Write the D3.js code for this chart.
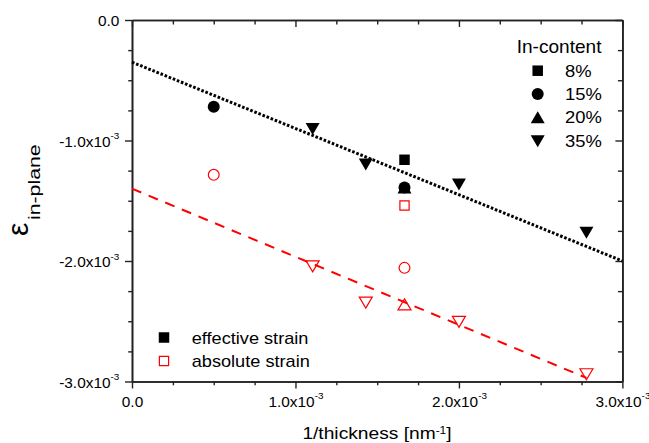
<!DOCTYPE html>
<html><head><meta charset="utf-8">
<script src="https://cdn.jsdelivr.net/npm/d3@7"></script>
<style>
body{margin:0;background:#fff}
svg{display:block}
text{font-family:"Liberation Sans",Arial,Helvetica,sans-serif;fill:#000}
</style>
</head><body>
<svg id="chart" width="649" height="443"></svg>
<script>
// ---------------- data ----------------
const contentLabels = ["8%", "15%", "20%", "35%"];
const contentShapes = ["square", "circle", "triangleUp", "triangleDown"];

// effective strain (filled black)
const effX = [0.5e-3, 1.105e-3, 1.43e-3, 1.667e-3, 1.667e-3, 1.667e-3, 2.0e-3, 2.78e-3];
const effY = [-0.72e-3, -0.905e-3, -1.20e-3, -1.16e-3, -1.39e-3, -1.39e-3, -1.365e-3, -1.765e-3];
const effContent = ["15%", "35%", "35%", "8%", "15%", "20%", "35%", "35%"];

// absolute strain (open red)
const absX = [0.5e-3, 1.105e-3, 1.43e-3, 1.667e-3, 1.667e-3, 1.667e-3, 2.0e-3, 2.78e-3];
const absY = [-1.285e-3, -2.045e-3, -2.345e-3, -1.54e-3, -2.057e-3, -2.36e-3, -2.505e-3, -2.94e-3];
const absContent = ["15%", "35%", "35%", "8%", "15%", "20%", "35%", "35%"];

// linear fits
const fitEffX = [0, 3.0e-3];
const fitEffY = [-0.35e-3, -2.0e-3];
const fitAbsX = [0, 2.78e-3];
const fitAbsY = [-1.40e-3, -2.97e-3];

// ticks
const xMajorTicks = [0, 1e-3, 2e-3, 3e-3];
const xTickMant = ["0.0", "1.0x10", "2.0x10", "3.0x10"];
const xTickExp = ["", "-3", "-3", "-3"];
const xMinorTicks = [0.25e-3, 0.5e-3, 0.75e-3, 1.25e-3, 1.5e-3, 1.75e-3, 2.25e-3, 2.5e-3, 2.75e-3];
const yMajorTicks = [0, -1e-3, -2e-3, -3e-3];
const yTickMant = ["0.0", "-1.0x10", "-2.0x10", "-3.0x10"];
const yTickExp = ["", "-3", "-3", "-3"];
const yMinorTicks = [-0.25e-3, -0.5e-3, -0.75e-3, -1.25e-3, -1.5e-3, -1.75e-3, -2.25e-3, -2.5e-3, -2.75e-3];

const seriesLabels = ["effective strain", "absolute strain"];
const legendTitle = "In-content";

// ---------------- layout ----------------
const L = 132, R = 622.4, T = 20, B = 381.5;
const svg = d3.select("#chart");
const x = d3.scaleLinear().domain([0, 3e-3]).range([L, R]);
const y = d3.scaleLinear().domain([0, -3e-3]).range([T, B]);
const axisColor = "#222";

function shapePath(type, filled) {
  const p = d3.path();
  if (type === "square") {
    const s = filled ? 10.5 : 9.2;
    p.rect(-s / 2, -s / 2, s, s);
  } else if (type === "circle") {
    const r = filled ? 6 : 5.4;
    p.moveTo(r, 0); p.arc(0, 0, r, 0, 2 * Math.PI); p.closePath();
  } else {
    const w = filled ? 14 : 13, h = filled ? 12 : 11;
    const dir = type === "triangleUp" ? 1 : -1;
    p.moveTo(0, -dir * h / 2); p.lineTo(w / 2, dir * h / 2); p.lineTo(-w / 2, dir * h / 2); p.closePath();
  }
  return p.toString();
}
const shapeOf = c => contentShapes[contentLabels.indexOf(c)];

function stretchedText(parent, tx, ty, sx, anchor, size, parts, rot) {
  const g = parent.append("g")
    .attr("transform", `translate(${tx},${ty})` + (rot ? ` rotate(${rot})` : "") + ` scale(${sx},1)`);
  const t = g.append("text").attr("text-anchor", anchor).attr("font-size", size);
  parts.forEach(pt => {
    const ts = t.append("tspan").text(pt.t);
    if (pt.size) ts.attr("font-size", pt.size);
    if (pt.dy) ts.attr("dy", pt.dy);
  });
  return g;
}

// ---------------- axes ----------------
function styleAxis(g) {
  g.selectAll("path.domain").attr("stroke", axisColor).attr("stroke-width", 1.6);
  g.selectAll(".tick line").attr("stroke", axisColor).attr("stroke-width", 1.4);
  g.selectAll(".tick text").remove();
}
// minor ticks
svg.append("g").attr("transform", `translate(0,${B})`)
  .call(d3.axisBottom(x).tickValues(xMinorTicks).tickSize(3.8).tickSizeOuter(0).tickFormat("")).call(styleAxis);
svg.append("g").attr("transform", `translate(0,${T})`)
  .call(d3.axisTop(x).tickValues(xMinorTicks).tickSize(-4.5).tickSizeOuter(0).tickFormat("")).call(styleAxis);
svg.append("g").attr("transform", `translate(${L},0)`)
  .call(d3.axisLeft(y).tickValues(yMinorTicks).tickSize(3.8).tickSizeOuter(0).tickFormat("")).call(styleAxis);
svg.append("g").attr("transform", `translate(${R},0)`)
  .call(d3.axisRight(y).tickValues(yMinorTicks).tickSize(-4.5).tickSizeOuter(0).tickFormat("")).call(styleAxis);
// major ticks
const xAxisB = svg.append("g").attr("transform", `translate(0,${B})`)
  .call(d3.axisBottom(x).tickValues(xMajorTicks).tickSize(7).tickSizeOuter(0).tickFormat("")).call(styleAxis);
svg.append("g").attr("transform", `translate(0,${T})`)
  .call(d3.axisTop(x).tickValues(xMajorTicks).tickSize(-7).tickSizeOuter(0).tickFormat("")).call(styleAxis);
const yAxisL = svg.append("g").attr("transform", `translate(${L},0)`)
  .call(d3.axisLeft(y).tickValues(yMajorTicks).tickSize(7).tickSizeOuter(0).tickFormat("")).call(styleAxis);
svg.append("g").attr("transform", `translate(${R},0)`)
  .call(d3.axisRight(y).tickValues(yMajorTicks).tickSize(-7).tickSizeOuter(0).tickFormat("")).call(styleAxis);

// tick labels
xAxisB.selectAll(".tick").each(function (d, i) {
  const parts = [{ t: xTickMant[i] }];
  if (xTickExp[i]) parts.push({ t: xTickExp[i], size: 9, dy: -7.5 });
  stretchedText(d3.select(this), 0, 25, 1.1, "middle", 14, parts);
});
yAxisL.selectAll(".tick").each(function (d, i) {
  const parts = [{ t: yTickMant[i] }];
  if (yTickExp[i]) parts.push({ t: yTickExp[i], size: 9, dy: -7.5 });
  stretchedText(d3.select(this), -12.7, 5.6, 1.1, "end", 14, parts);
});

// axis titles
stretchedText(svg, 377, 439, 1.2, "middle", 16, [
  { t: "1/thickness [nm" }, { t: "-1", size: 10, dy: -5 }, { t: "]", dy: 5 }
]);
svg.append("text").attr("transform", "translate(28,236) rotate(-90)")
  .attr("font-size", 30).attr("text-anchor", "start").text("\u03B5");
stretchedText(svg, 40, 220, 1.25, "start", 17, [{ t: "in-plane" }], -90);

// ---------------- fit lines ----------------
const line = d3.line().x(d => x(d[0])).y(d => y(d[1]));
svg.append("path").datum(d3.zip(fitEffX, fitEffY)).attr("d", line)
  .attr("fill", "none").attr("stroke", "#000").attr("stroke-width", 3).attr("stroke-dasharray", "2.6,1.8");
svg.append("path").datum(d3.zip(fitAbsX, fitAbsY)).attr("d", line)
  .attr("fill", "none").attr("stroke", "#f00").attr("stroke-width", 2).attr("stroke-dasharray", "10,8");

// ---------------- points ----------------
svg.append("g").selectAll("path").data(d3.range(absX.length)).join("path")
  .attr("transform", i => `translate(${x(absX[i])},${y(absY[i])})`)
  .attr("d", i => shapePath(shapeOf(absContent[i]), false))
  .attr("fill", "none").attr("stroke", "#f00").attr("stroke-width", 1.2);
svg.append("g").selectAll("path").data(d3.range(effX.length)).join("path")
  .attr("transform", i => `translate(${x(effX[i])},${y(effY[i])})`)
  .attr("d", i => shapePath(shapeOf(effContent[i]), true))
  .attr("fill", "#000");

// ---------------- legends ----------------
stretchedText(svg, 516.7, 53.3, 1.06, "start", 18, [{ t: legendTitle }]);
const legRowsY = [70.7, 94, 117.3, 141.2];
contentLabels.forEach((lab, i) => {
  svg.append("path").attr("transform", `translate(537.7,${legRowsY[i]})`)
    .attr("d", shapePath(contentShapes[i], true)).attr("fill", "#000");
  stretchedText(svg, 565, legRowsY[i] + 6, 1.15, "start", 16, [{ t: lab }]);
});

const sLegY = [337.5, 361];
svg.append("path").attr("transform", `translate(164,${sLegY[0]})`)
  .attr("d", shapePath("square", true)).attr("fill", "#000");
svg.append("path").attr("transform", `translate(164,${sLegY[1]})`)
  .attr("d", shapePath("square", false)).attr("fill", "none").attr("stroke", "#f00").attr("stroke-width", 1.2);
seriesLabels.forEach((lab, i) => {
  stretchedText(svg, 191.7, sLegY[i] + 6.3, 1.135, "start", 16, [{ t: lab }]);
});
</script>
</body></html>
